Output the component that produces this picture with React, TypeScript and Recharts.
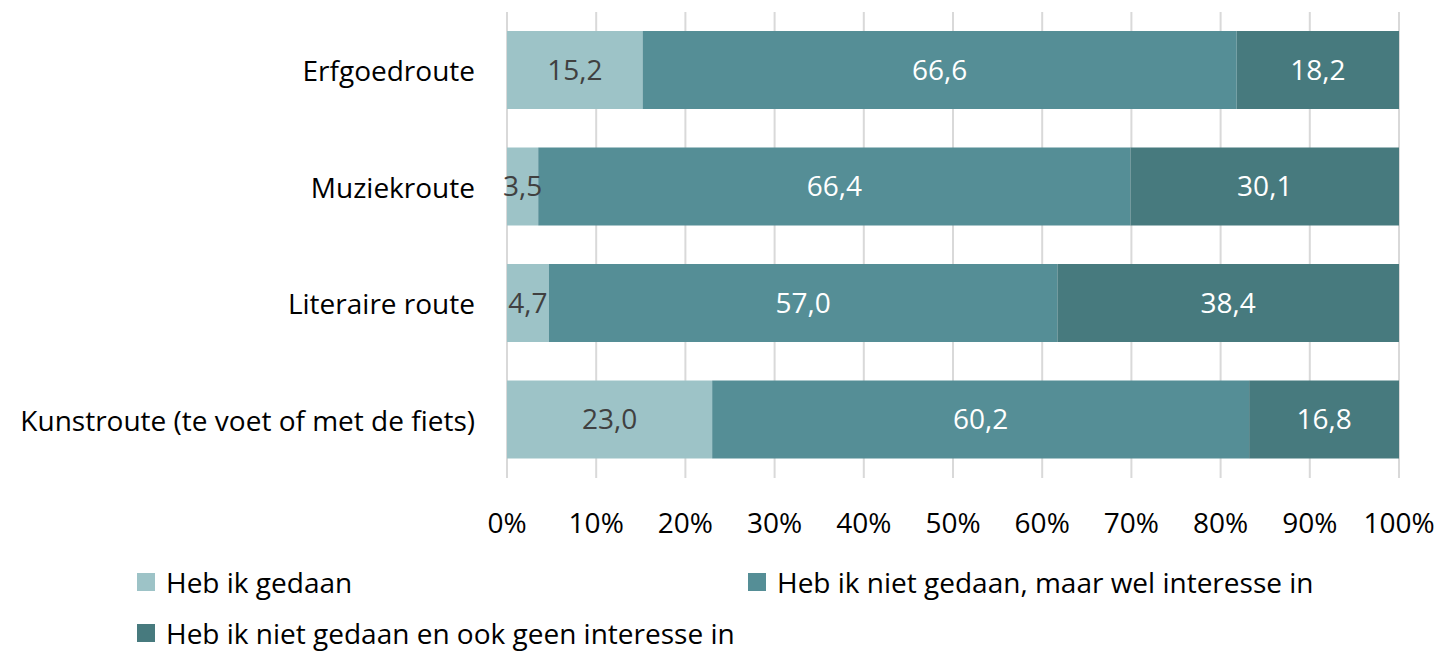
import React from "react";
import { BarChart, Bar, XAxis, YAxis, CartesianGrid, LabelList } from "recharts";

const categories = ["Erfgoedroute", "Muziekroute", "Literaire route", "Kunstroute (te voet of met de fiets)"];
const gedaan = [15.2, 3.5, 4.7, 23.0];
const interesse = [66.6, 66.4, 57.0, 60.2];
const geenInteresse = [18.2, 30.1, 38.4, 16.8];
const xTicks = [0, 10, 20, 30, 40, 50, 60, 70, 80, 90, 100];
const seriesNames = [
  "Heb ik gedaan",
  "Heb ik niet gedaan, maar wel interesse in",
  "Heb ik niet gedaan en ook geen interesse in",
];
const colors = ["#9DC3C7", "#558E96", "#477A7E"];
const labelColors = ["#404040", "#FFFFFF", "#FFFFFF"];

const data = categories.map((c, i) => ({
  name: c,
  a: gedaan[i],
  b: interesse[i],
  c: geenInteresse[i],
}));

const FONT = "'Open Sans', sans-serif";
const FS = 28;
const fmt = (v: any) => Number(v).toFixed(1).replace(".", ",");

const XTick = (props: any) => {
  const { x, y, payload } = props;
  return (
    <text x={x} y={y + 44} textAnchor="middle" dominantBaseline="central" fontSize={FS} fill="#000" fontFamily={FONT}>
      {payload.value}%
    </text>
  );
};

const YTick = (props: any) => {
  const { x, y, payload } = props;
  return (
    <text x={x - 32} y={y} textAnchor="end" dominantBaseline="central" fontSize={FS} fill="#000" fontFamily={FONT}>
      {payload.value}
    </text>
  );
};

const Legend = () => {
  const items = [
    { left: 137, top: 573 },
    { left: 748, top: 573 },
    { left: 137, top: 624 },
  ];
  return (
    <>
      {items.map((it, i) => (
        <div key={i} style={{ position: "absolute", left: it.left, top: it.top, display: "flex", alignItems: "center", fontFamily: FONT, fontSize: FS, color: "#000", whiteSpace: "nowrap", height: 18 }}>
          <div style={{ width: 18, height: 18, background: colors[i], marginRight: 11 }} />
          <span style={{ lineHeight: "18px" }}>{seriesNames[i]}</span>
        </div>
      ))}
    </>
  );
};

export default function App() {
  const keys = ["a", "b", "c"];
  return (
    <div style={{ position: "absolute", left: 0, top: 0, width: 1443, height: 651, background: "#fff", overflow: "hidden" }}>
      <BarChart
        width={1443}
        height={651}
        data={data}
        layout="vertical"
        margin={{ top: 12, right: 44, bottom: 0, left: 0 }}
        barSize={78}
      >
        <CartesianGrid horizontal={false} vertical={true} stroke="#D9D9D9" strokeWidth={2} />
        <XAxis
          type="number"
          domain={[0, 100]}
          ticks={xTicks}
          allowDataOverflow
          axisLine={false}
          tickLine={false}
          tickSize={0}
          tickMargin={0}
          height={173}
          tick={<XTick />}
          interval={0}
        />
        <YAxis
          type="category"
          dataKey="name"
          width={507}
          axisLine={false}
          tickLine={false}
          tickSize={0}
          tickMargin={0}
          tick={<YTick />}
          interval={0}
        />
        {keys.map((k, i) => (
          <Bar key={k} dataKey={k} stackId="s" fill={colors[i]} isAnimationActive={false} name={seriesNames[i]}>
            <LabelList dataKey={k} position="center" formatter={fmt} fill={labelColors[i]} fontSize={FS} fontFamily={FONT} />
          </Bar>
        ))}
      </BarChart>
      <Legend />
    </div>
  );
}
